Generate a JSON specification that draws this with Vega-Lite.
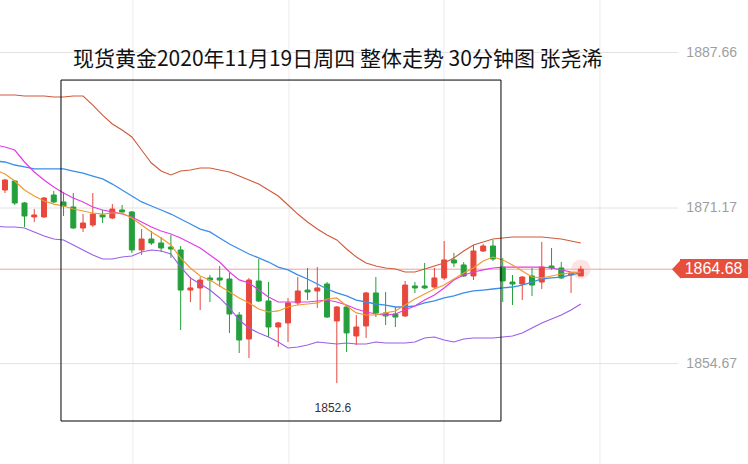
{
  "$schema": "https://vega.github.io/schema/vega-lite/v6.json",
  "width": 748,
  "height": 464,
  "autosize": {"type": "none"},
  "padding": 0,
  "background": "white",
  "config": {"view": {"stroke": null}, "scale": {"continuousPadding": 0}},
  "datasets": {
    "candles": [
      {"i":0,"o":1873.08,"h":1874.25,"l":1872.76,"c":1874.14},
      {"i":1,"o":1874.03,"h":1874.14,"l":1871.49,"c":1871.70},
      {"i":2,"o":1871.70,"h":1871.81,"l":1869.16,"c":1870.32},
      {"i":3,"o":1870.22,"h":1871.06,"l":1869.69,"c":1870.43},
      {"i":4,"o":1870.22,"h":1872.34,"l":1870.11,"c":1872.23},
      {"i":5,"o":1872.55,"h":1872.97,"l":1871.70,"c":1871.81},
      {"i":6,"o":1871.81,"h":1872.87,"l":1870.32,"c":1871.38},
      {"i":7,"o":1871.28,"h":1872.76,"l":1868.94,"c":1869.05},
      {"i":8,"o":1869.05,"h":1870.53,"l":1868.63,"c":1869.58},
      {"i":9,"o":1869.37,"h":1872.76,"l":1869.16,"c":1870.53},
      {"i":10,"o":1870.43,"h":1870.96,"l":1869.58,"c":1870.22},
      {"i":11,"o":1870.11,"h":1871.59,"l":1870.00,"c":1871.06},
      {"i":12,"o":1870.96,"h":1871.49,"l":1870.64,"c":1870.75},
      {"i":13,"o":1870.75,"h":1870.85,"l":1866.40,"c":1866.72},
      {"i":14,"o":1866.72,"h":1868.94,"l":1866.19,"c":1867.88},
      {"i":15,"o":1867.88,"h":1868.73,"l":1867.25,"c":1867.46},
      {"i":16,"o":1867.46,"h":1868.09,"l":1866.50,"c":1866.93},
      {"i":17,"o":1867.03,"h":1868.31,"l":1865.87,"c":1866.82},
      {"i":18,"o":1866.72,"h":1867.14,"l":1858.23,"c":1862.47},
      {"i":19,"o":1862.47,"h":1863.85,"l":1861.20,"c":1862.69},
      {"i":20,"o":1862.69,"h":1863.85,"l":1860.35,"c":1863.53},
      {"i":21,"o":1863.75,"h":1864.07,"l":1861.20,"c":1863.53},
      {"i":22,"o":1863.75,"h":1865.02,"l":1862.79,"c":1863.53},
      {"i":23,"o":1863.64,"h":1864.28,"l":1857.91,"c":1859.93},
      {"i":24,"o":1859.82,"h":1860.14,"l":1855.79,"c":1857.17},
      {"i":25,"o":1857.28,"h":1863.75,"l":1855.26,"c":1863.53},
      {"i":26,"o":1863.43,"h":1865.76,"l":1861.20,"c":1861.31},
      {"i":27,"o":1861.31,"h":1863.32,"l":1857.49,"c":1858.55},
      {"i":28,"o":1858.55,"h":1859.08,"l":1856.43,"c":1858.98},
      {"i":29,"o":1858.98,"h":1861.63,"l":1856.96,"c":1861.10},
      {"i":30,"o":1861.10,"h":1863.85,"l":1860.88,"c":1862.37},
      {"i":31,"o":1862.47,"h":1864.81,"l":1861.41,"c":1862.26},
      {"i":32,"o":1862.37,"h":1864.91,"l":1860.57,"c":1862.69},
      {"i":33,"o":1863.11,"h":1863.32,"l":1859.51,"c":1859.61},
      {"i":34,"o":1859.19,"h":1860.78,"l":1852.60,"c":1860.67},
      {"i":35,"o":1860.67,"h":1860.88,"l":1855.90,"c":1857.92},
      {"i":36,"o":1857.60,"h":1859.82,"l":1856.64,"c":1858.55},
      {"i":37,"o":1858.66,"h":1862.26,"l":1857.38,"c":1862.16},
      {"i":38,"o":1862.16,"h":1863.85,"l":1859.61,"c":1860.04},
      {"i":39,"o":1860.04,"h":1862.26,"l":1858.76,"c":1859.72},
      {"i":40,"o":1859.93,"h":1860.67,"l":1858.55,"c":1859.61},
      {"i":41,"o":1859.72,"h":1863.43,"l":1859.61,"c":1863.00},
      {"i":42,"o":1862.90,"h":1863.32,"l":1862.16,"c":1862.69},
      {"i":43,"o":1862.90,"h":1865.34,"l":1862.58,"c":1862.69},
      {"i":44,"o":1862.79,"h":1864.81,"l":1862.58,"c":1863.75},
      {"i":45,"o":1863.75,"h":1867.67,"l":1863.53,"c":1865.66},
      {"i":46,"o":1865.66,"h":1866.40,"l":1864.91,"c":1865.34},
      {"i":47,"o":1865.13,"h":1865.44,"l":1863.85,"c":1863.96},
      {"i":48,"o":1863.96,"h":1867.25,"l":1863.53,"c":1866.61},
      {"i":49,"o":1866.61,"h":1867.35,"l":1866.50,"c":1867.14},
      {"i":50,"o":1867.14,"h":1867.78,"l":1865.55,"c":1865.76},
      {"i":51,"o":1864.91,"h":1865.87,"l":1861.20,"c":1863.43},
      {"i":52,"o":1863.32,"h":1864.07,"l":1860.88,"c":1863.11},
      {"i":53,"o":1863.11,"h":1863.96,"l":1861.41,"c":1863.85},
      {"i":54,"o":1863.96,"h":1864.81,"l":1861.84,"c":1863.00},
      {"i":55,"o":1863.32,"h":1867.57,"l":1862.58,"c":1864.91},
      {"i":56,"o":1865.02,"h":1866.93,"l":1864.60,"c":1864.81},
      {"i":57,"o":1864.81,"h":1865.44,"l":1863.64,"c":1863.75},
      {"i":58,"o":1864.07,"h":1864.28,"l":1862.16,"c":1864.28},
      {"i":59,"o":1863.96,"h":1865.02,"l":1863.96,"c":1864.68}
    ],
    "bands": [
      {"i":-1,"up":1883.15,"mid":1876.15,"ma5":1875.20,"ma10":1877.85,"dn":1869.26},
      {"i":0,"up":1883.15,"mid":1876.05,"ma5":1874.78,"ma10":1877.64,"dn":1869.16},
      {"i":1,"up":1883.15,"mid":1875.73,"ma5":1874.03,"ma10":1877.32,"dn":1869.16},
      {"i":2,"up":1883.05,"mid":1875.52,"ma5":1873.08,"ma10":1876.05,"dn":1869.05},
      {"i":3,"up":1883.05,"mid":1875.31,"ma5":1872.44,"ma10":1874.99,"dn":1868.63},
      {"i":4,"up":1883.05,"mid":1875.31,"ma5":1871.91,"ma10":1874.14,"dn":1868.20},
      {"i":5,"up":1882.94,"mid":1875.31,"ma5":1871.59,"ma10":1873.40,"dn":1867.88},
      {"i":6,"up":1882.94,"mid":1875.31,"ma5":1871.38,"ma10":1872.76,"dn":1867.78},
      {"i":7,"up":1883.05,"mid":1875.09,"ma5":1871.06,"ma10":1872.23,"dn":1867.25},
      {"i":8,"up":1883.05,"mid":1874.88,"ma5":1870.85,"ma10":1871.81,"dn":1866.72},
      {"i":9,"up":1882.09,"mid":1874.56,"ma5":1870.64,"ma10":1871.28,"dn":1866.19},
      {"i":10,"up":1881.03,"mid":1874.25,"ma5":1870.53,"ma10":1870.96,"dn":1865.76},
      {"i":11,"up":1880.08,"mid":1873.71,"ma5":1870.64,"ma10":1870.75,"dn":1865.76},
      {"i":12,"up":1879.44,"mid":1873.08,"ma5":1870.64,"ma10":1870.53,"dn":1865.97},
      {"i":13,"up":1878.70,"mid":1872.44,"ma5":1870.11,"ma10":1870.22,"dn":1866.08},
      {"i":14,"up":1877.32,"mid":1871.81,"ma5":1869.37,"ma10":1869.69,"dn":1866.50},
      {"i":15,"up":1875.94,"mid":1871.38,"ma5":1868.63,"ma10":1869.16,"dn":1866.72},
      {"i":16,"up":1875.09,"mid":1870.96,"ma5":1867.99,"ma10":1868.73,"dn":1866.61},
      {"i":17,"up":1874.67,"mid":1870.53,"ma5":1867.25,"ma10":1868.41,"dn":1866.29},
      {"i":18,"up":1875.09,"mid":1870.00,"ma5":1865.87,"ma10":1867.99,"dn":1864.91},
      {"i":19,"up":1875.20,"mid":1869.47,"ma5":1864.81,"ma10":1867.46,"dn":1863.75},
      {"i":20,"up":1875.41,"mid":1868.94,"ma5":1863.96,"ma10":1866.93,"dn":1863.11},
      {"i":21,"up":1875.41,"mid":1868.63,"ma5":1863.54,"ma10":1866.19,"dn":1862.47},
      {"i":22,"up":1875.20,"mid":1867.99,"ma5":1862.90,"ma10":1865.44,"dn":1861.63},
      {"i":23,"up":1874.99,"mid":1867.35,"ma5":1862.26,"ma10":1864.38,"dn":1860.57},
      {"i":24,"up":1874.56,"mid":1866.82,"ma5":1861.63,"ma10":1863.54,"dn":1859.29},
      {"i":25,"up":1874.14,"mid":1866.29,"ma5":1861.10,"ma10":1863.22,"dn":1858.45},
      {"i":26,"up":1873.71,"mid":1865.87,"ma5":1860.46,"ma10":1862.47,"dn":1857.91},
      {"i":27,"up":1873.08,"mid":1865.44,"ma5":1860.14,"ma10":1861.73,"dn":1857.49},
      {"i":28,"up":1872.44,"mid":1864.91,"ma5":1860.25,"ma10":1861.20,"dn":1856.96},
      {"i":29,"up":1871.49,"mid":1864.60,"ma5":1860.67,"ma10":1861.20,"dn":1856.32},
      {"i":30,"up":1870.53,"mid":1864.07,"ma5":1860.88,"ma10":1861.20,"dn":1856.43},
      {"i":31,"up":1869.69,"mid":1863.64,"ma5":1860.99,"ma10":1861.20,"dn":1856.64},
      {"i":32,"up":1868.94,"mid":1863.11,"ma5":1861.10,"ma10":1861.31,"dn":1856.96},
      {"i":33,"up":1868.31,"mid":1862.58,"ma5":1861.52,"ma10":1861.41,"dn":1856.85},
      {"i":34,"up":1867.78,"mid":1862.16,"ma5":1861.63,"ma10":1861.20,"dn":1856.75},
      {"i":35,"up":1866.82,"mid":1861.84,"ma5":1860.78,"ma10":1860.88,"dn":1856.85},
      {"i":36,"up":1865.97,"mid":1861.41,"ma5":1860.04,"ma10":1860.46,"dn":1856.75},
      {"i":37,"up":1865.34,"mid":1861.20,"ma5":1859.82,"ma10":1860.14,"dn":1856.75},
      {"i":38,"up":1865.02,"mid":1860.99,"ma5":1859.82,"ma10":1859.93,"dn":1856.96},
      {"i":39,"up":1864.81,"mid":1860.88,"ma5":1860.04,"ma10":1859.82,"dn":1856.85},
      {"i":40,"up":1864.70,"mid":1860.67,"ma5":1860.25,"ma10":1859.93,"dn":1856.85},
      {"i":41,"up":1864.38,"mid":1860.67,"ma5":1860.88,"ma10":1860.35,"dn":1856.85},
      {"i":42,"up":1864.38,"mid":1860.78,"ma5":1861.52,"ma10":1860.78,"dn":1856.96},
      {"i":43,"up":1864.70,"mid":1861.10,"ma5":1862.05,"ma10":1861.41,"dn":1857.38},
      {"i":44,"up":1865.02,"mid":1861.31,"ma5":1862.58,"ma10":1861.94,"dn":1857.49},
      {"i":45,"up":1865.34,"mid":1861.63,"ma5":1863.00,"ma10":1862.69,"dn":1857.17},
      {"i":46,"up":1865.87,"mid":1861.84,"ma5":1863.64,"ma10":1863.54,"dn":1856.96},
      {"i":47,"up":1866.61,"mid":1862.16,"ma5":1864.28,"ma10":1864.07,"dn":1857.28},
      {"i":48,"up":1867.25,"mid":1862.37,"ma5":1864.81,"ma10":1864.38,"dn":1857.38},
      {"i":49,"up":1867.56,"mid":1862.47,"ma5":1865.55,"ma10":1864.60,"dn":1857.38},
      {"i":50,"up":1867.88,"mid":1862.58,"ma5":1865.97,"ma10":1864.81,"dn":1857.38},
      {"i":51,"up":1867.99,"mid":1862.69,"ma5":1865.66,"ma10":1864.91,"dn":1857.49},
      {"i":52,"up":1868.09,"mid":1862.79,"ma5":1865.13,"ma10":1864.91,"dn":1857.60},
      {"i":53,"up":1868.09,"mid":1863.00,"ma5":1864.49,"ma10":1864.91,"dn":1857.91},
      {"i":54,"up":1868.09,"mid":1863.32,"ma5":1863.85,"ma10":1864.91,"dn":1858.45},
      {"i":55,"up":1868.09,"mid":1863.64,"ma5":1863.75,"ma10":1864.91,"dn":1858.98},
      {"i":56,"up":1867.99,"mid":1863.75,"ma5":1863.96,"ma10":1864.81,"dn":1859.40},
      {"i":57,"up":1867.88,"mid":1863.85,"ma5":1864.17,"ma10":1864.60,"dn":1859.82},
      {"i":58,"up":1867.67,"mid":1864.07,"ma5":1864.28,"ma10":1864.38,"dn":1860.35},
      {"i":59,"up":1867.46,"mid":1864.28,"ma5":1864.38,"ma10":1864.28,"dn":1860.99}
    ],
    "hgrid": [
      {"v":1887.66,"a":-0.51,"b":68.95},
      {"v":1871.17,"a":-0.51,"b":68.95},
      {"v":1854.67,"a":-0.51,"b":68.95}
    ],
    "vgrid": [{"i":13.11},{"i":29.1},{"i":44.98},{"i":60.96}],
    "axislabels": [
      {"v":1887.66,"i":75.0,"t":"1887.66"},
      {"v":1871.17,"i":75.0,"t":"1871.17"},
      {"v":1854.67,"i":75.0,"t":"1854.67"}
    ],
    "last": [{"v":1864.68,"a":-0.51,"b":68.6,"ti":69.16,"te":76.13,"tc":72.6,"y1":1865.76,"y2":1863.75,"t":"1864.68","li":59}],
    "box": [{"x1":5.74,"x2":50.82,"y1":1884.74,"y2":1848.58}],
    "title": [{"i":34.1,"v":1886.86,"t":"现货黄金2020年11月19日周四 整体走势 30分钟图 张尧浠"}],
    "lowlabel": [{"i":33.6,"v":1849.96,"t":"1852.6"}]
  },
  "layer": [
    {
      "data": {"name": "vgrid"},
      "mark": {"type": "rule", "color": "#ebebeb", "strokeWidth": 1},
      "encoding": {
        "x": {"field": "i", "type": "quantitative", "scale": {"domain": [-0.51, 76.13], "nice": false, "zero": false, "padding": 0}, "axis": null}
      }
    },
    {
      "data": {"name": "hgrid"},
      "mark": {"type": "rule", "color": "#e2e2e2", "strokeWidth": 1},
      "encoding": {
        "x": {"field": "a", "type": "quantitative", "scale": {"domain": [-0.51, 76.13], "nice": false, "zero": false, "padding": 0}, "axis": null},
        "x2": {"field": "b"},
        "y": {"field": "v", "type": "quantitative", "scale": {"domain": [1844.02, 1893.23], "nice": false, "zero": false, "padding": 0}, "axis": null}
      }
    },
    {
      "data": {"name": "last"},
      "mark": {"type": "rule", "color": "#f0a29a", "strokeWidth": 1},
      "encoding": {
        "x": {"field": "a", "type": "quantitative", "scale": {"domain": [-0.51, 76.13], "nice": false, "zero": false, "padding": 0}, "axis": null},
        "x2": {"field": "b"},
        "y": {"field": "v", "type": "quantitative", "scale": {"domain": [1844.02, 1893.23], "nice": false, "zero": false, "padding": 0}, "axis": null}
      }
    },
    {
      "data": {"name": "last"},
      "mark": {"type": "point", "filled": true, "size": 380, "color": "#f7b3ab", "opacity": 0.35},
      "encoding": {
        "x": {"field": "li", "type": "quantitative", "scale": {"domain": [-0.51, 76.13], "nice": false, "zero": false, "padding": 0}, "axis": null},
        "y": {"field": "v", "type": "quantitative", "scale": {"domain": [1844.02, 1893.23], "nice": false, "zero": false, "padding": 0}, "axis": null}
      }
    },
    {
      "data": {"name": "candles"},
      "mark": {"type": "rule", "strokeWidth": 1},
      "encoding": {
        "x": {"field": "i", "type": "quantitative", "scale": {"domain": [-0.51, 76.13], "nice": false, "zero": false, "padding": 0}, "axis": null},
        "y": {"field": "l", "type": "quantitative", "scale": {"domain": [1844.02, 1893.23], "nice": false, "zero": false, "padding": 0}, "axis": null},
        "y2": {"field": "h"},
        "color": {"condition": {"test": "datum.c >= datum.o", "value": "#e8473c"}, "value": "#23a03b"}
      }
    },
    {
      "data": {"name": "candles"},
      "mark": {"type": "bar", "size": 5, "strokeWidth": 1},
      "encoding": {
        "x": {"field": "i", "type": "quantitative", "scale": {"domain": [-0.51, 76.13], "nice": false, "zero": false, "padding": 0}, "axis": null},
        "y": {"field": "o", "type": "quantitative", "scale": {"domain": [1844.02, 1893.23], "nice": false, "zero": false, "padding": 0}, "axis": null},
        "y2": {"field": "c"},
        "fill": {"condition": {"test": "datum.c >= datum.o", "value": "#e8473c"}, "value": "#23a03b"},
        "stroke": {"condition": {"test": "datum.c >= datum.o", "value": "#e8473c"}, "value": "#23a03b"}
      }
    },
    {
      "data": {"name": "bands"},
      "mark": {"type": "line", "color": "#d05a3c", "strokeWidth": 1.1, "clip": true},
      "encoding": {
        "x": {"field": "i", "type": "quantitative", "scale": {"domain": [-0.51, 76.13], "nice": false, "zero": false, "padding": 0}, "axis": null},
        "y": {"field": "up", "type": "quantitative", "scale": {"domain": [1844.02, 1893.23], "nice": false, "zero": false, "padding": 0}, "axis": null}
      }
    },
    {
      "data": {"name": "bands"},
      "mark": {"type": "line", "color": "#9b5de5", "strokeWidth": 1.1, "clip": true},
      "encoding": {
        "x": {"field": "i", "type": "quantitative", "scale": {"domain": [-0.51, 76.13], "nice": false, "zero": false, "padding": 0}, "axis": null},
        "y": {"field": "dn", "type": "quantitative", "scale": {"domain": [1844.02, 1893.23], "nice": false, "zero": false, "padding": 0}, "axis": null}
      }
    },
    {
      "data": {"name": "bands"},
      "mark": {"type": "line", "color": "#3b8ee8", "strokeWidth": 1.3, "clip": true},
      "encoding": {
        "x": {"field": "i", "type": "quantitative", "scale": {"domain": [-0.51, 76.13], "nice": false, "zero": false, "padding": 0}, "axis": null},
        "y": {"field": "mid", "type": "quantitative", "scale": {"domain": [1844.02, 1893.23], "nice": false, "zero": false, "padding": 0}, "axis": null}
      }
    },
    {
      "data": {"name": "bands"},
      "mark": {"type": "line", "color": "#e33ce6", "strokeWidth": 1.2, "clip": true},
      "encoding": {
        "x": {"field": "i", "type": "quantitative", "scale": {"domain": [-0.51, 76.13], "nice": false, "zero": false, "padding": 0}, "axis": null},
        "y": {"field": "ma10", "type": "quantitative", "scale": {"domain": [1844.02, 1893.23], "nice": false, "zero": false, "padding": 0}, "axis": null}
      }
    },
    {
      "data": {"name": "bands"},
      "mark": {"type": "line", "color": "#f09a30", "strokeWidth": 1.2, "clip": true},
      "encoding": {
        "x": {"field": "i", "type": "quantitative", "scale": {"domain": [-0.51, 76.13], "nice": false, "zero": false, "padding": 0}, "axis": null},
        "y": {"field": "ma5", "type": "quantitative", "scale": {"domain": [1844.02, 1893.23], "nice": false, "zero": false, "padding": 0}, "axis": null}
      }
    },
    {
      "data": {"name": "box"},
      "mark": {"type": "rect", "fillOpacity": 0, "fill": "white", "stroke": "#000000", "strokeWidth": 1},
      "encoding": {
        "x": {"field": "x1", "type": "quantitative", "scale": {"domain": [-0.51, 76.13], "nice": false, "zero": false, "padding": 0}, "axis": null},
        "x2": {"field": "x2"},
        "y": {"field": "y1", "type": "quantitative", "scale": {"domain": [1844.02, 1893.23], "nice": false, "zero": false, "padding": 0}, "axis": null},
        "y2": {"field": "y2"}
      }
    },
    {
      "data": {"name": "title"},
      "mark": {"type": "text", "font": "Noto Sans CJK SC", "fontSize": 21, "color": "#111111", "align": "center", "baseline": "middle"},
      "encoding": {
        "x": {"field": "i", "type": "quantitative", "scale": {"domain": [-0.51, 76.13], "nice": false, "zero": false, "padding": 0}, "axis": null},
        "y": {"field": "v", "type": "quantitative", "scale": {"domain": [1844.02, 1893.23], "nice": false, "zero": false, "padding": 0}, "axis": null},
        "text": {"field": "t"}
      }
    },
    {
      "data": {"name": "lowlabel"},
      "mark": {"type": "text", "font": "Liberation Sans", "fontSize": 12, "color": "#333333", "align": "center", "baseline": "middle"},
      "encoding": {
        "x": {"field": "i", "type": "quantitative", "scale": {"domain": [-0.51, 76.13], "nice": false, "zero": false, "padding": 0}, "axis": null},
        "y": {"field": "v", "type": "quantitative", "scale": {"domain": [1844.02, 1893.23], "nice": false, "zero": false, "padding": 0}, "axis": null},
        "text": {"field": "t"}
      }
    },
    {
      "data": {"name": "axislabels"},
      "mark": {"type": "text", "font": "Liberation Sans", "fontSize": 14, "color": "#9e9e9e", "align": "right", "baseline": "middle"},
      "encoding": {
        "x": {"field": "i", "type": "quantitative", "scale": {"domain": [-0.51, 76.13], "nice": false, "zero": false, "padding": 0}, "axis": null},
        "y": {"field": "v", "type": "quantitative", "scale": {"domain": [1844.02, 1893.23], "nice": false, "zero": false, "padding": 0}, "axis": null},
        "text": {"field": "t"}
      }
    },
    {
      "data": {"name": "last"},
      "mark": {"type": "rect", "color": "#e84e3c"},
      "encoding": {
        "x": {"field": "ti", "type": "quantitative", "scale": {"domain": [-0.51, 76.13], "nice": false, "zero": false, "padding": 0}, "axis": null},
        "x2": {"field": "te"},
        "y": {"field": "y1", "type": "quantitative", "scale": {"domain": [1844.02, 1893.23], "nice": false, "zero": false, "padding": 0}, "axis": null},
        "y2": {"field": "y2"}
      }
    },
    {
      "data": {"name": "last"},
      "mark": {"type": "point", "filled": true, "opacity": 1, "color": "#e84e3c", "size": 361, "shape": "M -0.84 0 L 0.1 -1 L 0.1 1 Z"},
      "encoding": {
        "x": {"field": "ti", "type": "quantitative", "scale": {"domain": [-0.51, 76.13], "nice": false, "zero": false, "padding": 0}, "axis": null},
        "y": {"field": "v", "type": "quantitative", "scale": {"domain": [1844.02, 1893.23], "nice": false, "zero": false, "padding": 0}, "axis": null}
      }
    },
    {
      "data": {"name": "last"},
      "mark": {"type": "text", "font": "Liberation Sans", "fontSize": 16, "color": "#ffffff", "align": "center", "baseline": "middle"},
      "encoding": {
        "x": {"field": "tc", "type": "quantitative", "scale": {"domain": [-0.51, 76.13], "nice": false, "zero": false, "padding": 0}, "axis": null},
        "y": {"field": "v", "type": "quantitative", "scale": {"domain": [1844.02, 1893.23], "nice": false, "zero": false, "padding": 0}, "axis": null},
        "text": {"field": "t"}
      }
    }
  ]
}
